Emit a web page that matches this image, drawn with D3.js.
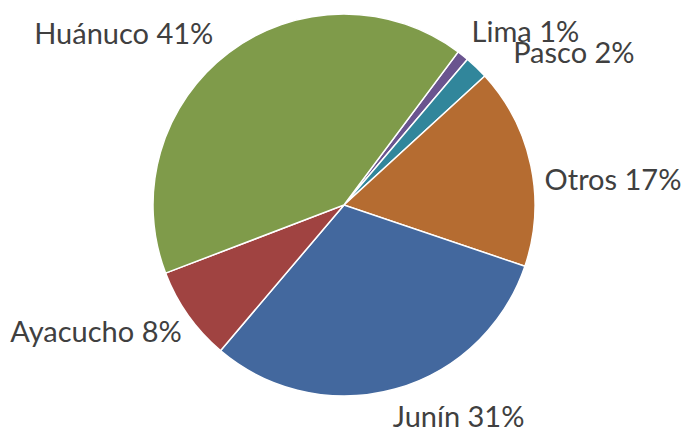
<!DOCTYPE html>
<html lang="es">
<head>
<meta charset="UTF-8">
<title>Pie</title>
<script src="https://d3js.org/d3.v7.min.js"></script>
<style>
  body { margin: 0; background: #fff; }
  .lbl { font-family: Lato, "Open Sans", sans-serif; font-size: 29px; fill: #404040; }
</style>
</head>
<body>
<svg width="684" height="429"></svg>
<script>
const regions = ["Lima", "Pasco", "Otros", "Junín", "Ayacucho", "Huánuco"];
const shares = [1, 2, 17, 31, 8, 41];
const colors = ["#6a548f", "#31869b", "#b56c31", "#43689e", "#a04341", "#7f9b4a"];

const svg = d3.select("svg");
const cx = 344, cy = 205, r = 191;
const g = svg.append("g").attr("transform", `translate(${cx},${cy})`);

const startDeg = 36.7;
const pie = d3.pie().sort(null).value(d => d.value)
  .startAngle(startDeg * Math.PI / 180)
  .endAngle((startDeg + 360) * Math.PI / 180);
const arc = d3.arc().innerRadius(0).outerRadius(r);
const data = pie(regions.map((name, i) => ({ name, value: shares[i] })));

g.selectAll("path").data(data).enter().append("path")
  .attr("d", arc)
  .attr("fill", (d, i) => colors[i])
  .attr("stroke", "#fff")
  .attr("stroke-width", 1.5);

// label nudges (Excel's best-fit placement)
const nudge = { "Lima": [0, -3], "Pasco": [27, 6], "Otros": [0, 27], "Junín": [-6, 24], "Ayacucho": [5, 19], "Huánuco": [-7, 2] };
const R = r + 14;
g.selectAll("text").data(data).enter().append("text")
  .attr("class", "lbl")
  .each(function(d) {
    const a = (d.startAngle + d.endAngle) / 2;
    const x = R * Math.sin(a), y = -R * Math.cos(a);
    const n = nudge[d.data.name];
    const right = Math.sin(a) > 0;
    d3.select(this)
      .attr("x", x + n[0]).attr("y", y + n[1])
      .attr("text-anchor", right ? "start" : "end")
      .text(d.data.name + " " + d.data.value + "%");
  });
</script>
</body>
</html>
